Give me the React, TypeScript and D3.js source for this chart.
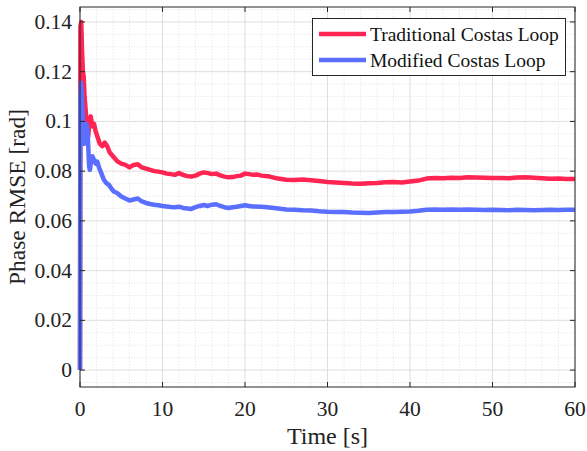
import React from "react";
import * as d3 from "d3";

const traditional: [number, number][] = [
  [0, 0], [0.05, 0.138], [0.15, 0.14], [0.25, 0.128], [0.35, 0.12], [0.45, 0.118], [0.55, 0.11],
  [0.7, 0.104], [0.85, 0.096], [1.0, 0.094], [1.15, 0.101], [1.3, 0.102], [1.5, 0.098], [1.7, 0.099],
  [1.9, 0.096], [2.1, 0.094], [2.4, 0.091], [2.7, 0.09], [3.0, 0.0915], [3.3, 0.09], [3.6, 0.0875],
  [4.0, 0.086], [4.5, 0.084], [5.0, 0.083], [5.5, 0.0825], [6.0, 0.0815], [6.5, 0.0825], [7.0, 0.0828],
  [7.5, 0.0815], [8.0, 0.081], [8.5, 0.0805], [9.0, 0.08], [9.5, 0.0798], [10, 0.0795], [10.5, 0.079],
  [11, 0.0788], [11.5, 0.0785], [12, 0.0792], [12.5, 0.0785], [13, 0.078], [13.5, 0.0778], [14, 0.0782],
  [14.5, 0.079], [15, 0.0795], [15.5, 0.0792], [16, 0.0788], [16.5, 0.079], [17, 0.0783], [17.5, 0.0778],
  [18, 0.0775], [18.5, 0.0776], [19, 0.078], [19.5, 0.0782], [20, 0.079], [20.5, 0.0788], [21, 0.0785],
  [21.5, 0.0786], [22, 0.0782], [23, 0.0778], [24, 0.077], [25, 0.0765], [26, 0.0764], [27, 0.0766],
  [28, 0.0763], [29, 0.076], [30, 0.0756], [31, 0.0754], [32, 0.0752], [33, 0.075], [34, 0.0749],
  [35, 0.0751], [36, 0.0752], [37, 0.0755], [38, 0.0756], [39, 0.0754], [40, 0.0758], [41, 0.0762],
  [42, 0.077], [43, 0.0772], [44, 0.0771], [45, 0.0773], [46, 0.0772], [47, 0.0775], [48, 0.0774],
  [49, 0.0773], [50, 0.0772], [51, 0.0772], [52, 0.0771], [53, 0.0774], [54, 0.0775], [55, 0.0773],
  [56, 0.0771], [57, 0.0769], [58, 0.077], [59, 0.0768], [60, 0.0768],
];

const modified: [number, number][] = [
  [0, 0], [0.05, 0.11], [0.12, 0.1155], [0.2, 0.112], [0.3, 0.105], [0.4, 0.097], [0.5, 0.091],
  [0.6, 0.094], [0.75, 0.099], [0.9, 0.097], [1.0, 0.09], [1.1, 0.082], [1.2, 0.0805], [1.35, 0.084],
  [1.5, 0.086], [1.7, 0.0845], [1.9, 0.083], [2.1, 0.0838], [2.3, 0.0815], [2.6, 0.079], [2.9, 0.0765],
  [3.2, 0.0752], [3.5, 0.0745], [3.8, 0.073], [4.1, 0.0718], [4.5, 0.0712], [5.0, 0.0698], [5.5, 0.069],
  [6.0, 0.0682], [6.5, 0.0686], [7.0, 0.069], [7.5, 0.0678], [8.0, 0.0672], [8.5, 0.0668], [9, 0.0665],
  [9.5, 0.0663], [10, 0.066], [10.5, 0.0658], [11, 0.0656], [11.5, 0.0655], [12, 0.0657], [12.5, 0.0652],
  [13, 0.065], [13.5, 0.0648], [14, 0.0655], [14.5, 0.066], [15, 0.0664], [15.5, 0.066], [16, 0.0665],
  [16.5, 0.0667], [17, 0.066], [17.5, 0.0655], [18, 0.0652], [18.5, 0.0655], [19, 0.0657], [19.5, 0.066],
  [20, 0.0663], [20.5, 0.066], [21, 0.0658], [22, 0.0657], [23, 0.0654], [24, 0.065], [25, 0.0646],
  [26, 0.0645], [27, 0.0643], [28, 0.0642], [29, 0.0639], [30, 0.0637], [31, 0.0636], [32, 0.0636],
  [33, 0.0634], [34, 0.0633], [35, 0.0632], [36, 0.0634], [37, 0.0636], [38, 0.0636], [39, 0.0637],
  [40, 0.0638], [41, 0.0641], [42, 0.0645], [43, 0.0646], [44, 0.0645], [45, 0.0646], [46, 0.0645],
  [47, 0.0646], [48, 0.0645], [49, 0.0644], [50, 0.0645], [51, 0.0644], [52, 0.0643], [53, 0.0645],
  [54, 0.0644], [55, 0.0643], [56, 0.0644], [57, 0.0645], [58, 0.0644], [59, 0.0645], [60, 0.0645],
];

const xTicks = [0, 10, 20, 30, 40, 50, 60];
const yTicks = [0, 0.02, 0.04, 0.06, 0.08, 0.1, 0.12, 0.14];
const yTickLabels = ["0", "0.02", "0.04", "0.06", "0.08", "0.1", "0.12", "0.14"];
const seriesNames = ["Traditional Costas Loop", "Modified Costas Loop"];
const seriesColors = ["#ff2452", "#5a6eff"];

const W = 587, H = 451;
const L = 80, R = 575, T = 7, B = 387;
const FONT = "'Liberation Serif', 'Times New Roman', serif";

export default function App() {
  const x = d3.scaleLinear().domain([0, 60]).range([L, R]);
  const y = d3.scaleLinear().domain([-0.0068, 0.146]).range([B, T]);
  const line = d3.line<[number, number]>().x(d => x(d[0])).y(d => y(d[1]));
  const minorX = d3.range(0, 60.001, 2).filter(v => v % 10 !== 0);
  const minorY = d3.range(-0.005, 0.1451, 0.005).filter(v => Math.abs(v / 0.02 - Math.round(v / 0.02)) > 1e-6);
  const axisColor = "#262626";
  const tl = 5;
  return (
    <svg width={W} height={H} style={{ position: "absolute", left: 0, top: 0, background: "#fff" }}>
      <rect x={0} y={0} width={W} height={H} fill="#fff" />
      {minorX.map(v => (
        <line key={"mx" + v} x1={x(v)} x2={x(v)} y1={T} y2={B} stroke="#e4e4e4" strokeWidth={0.8} strokeDasharray="1.5,1.5" />
      ))}
      {minorY.map(v => (
        <line key={"my" + v} x1={L} x2={R} y1={y(v)} y2={y(v)} stroke="#e4e4e4" strokeWidth={0.8} strokeDasharray="1.5,1.5" />
      ))}
      {xTicks.map(v => (
        <line key={"gx" + v} x1={x(v)} x2={x(v)} y1={T} y2={B} stroke="#dedede" strokeWidth={1} />
      ))}
      {yTicks.map(v => (
        <line key={"gy" + v} x1={L} x2={R} y1={y(v)} y2={y(v)} stroke="#dedede" strokeWidth={1} />
      ))}
      <path d={line(traditional) || ""} fill="none" stroke={seriesColors[0]} strokeWidth={4.5} strokeLinejoin="round" />
      <path d={line(modified) || ""} fill="none" stroke={seriesColors[1]} strokeWidth={4.5} strokeLinejoin="round" />
      <rect x={L} y={T} width={R - L} height={B - T} fill="none" stroke={axisColor} strokeWidth={1} />
      {xTicks.map(v => (
        <g key={"tx" + v}>
          <line x1={x(v)} x2={x(v)} y1={B} y2={B - tl} stroke={axisColor} />
          <line x1={x(v)} x2={x(v)} y1={T} y2={T + tl} stroke={axisColor} />
          <text x={x(v)} y={415.5} textAnchor="middle" fontFamily={FONT} fontSize={21.5} fill="#222">{v}</text>
        </g>
      ))}
      {yTicks.map((v, i) => (
        <g key={"ty" + v}>
          <line x1={L} x2={L + tl} y1={y(v)} y2={y(v)} stroke={axisColor} />
          <line x1={R} x2={R - tl} y1={y(v)} y2={y(v)} stroke={axisColor} />
          <text x={72} y={y(v) + 7} textAnchor="end" fontFamily={FONT} fontSize={21.5} fill="#222">{yTickLabels[i]}</text>
        </g>
      ))}
      <text x={(L + R) / 2} y={444} textAnchor="middle" fontFamily={FONT} fontSize={24} fill="#222">Time [s]</text>
      <text transform={`translate(25, ${(T + B) / 2}) rotate(-90)`} textAnchor="middle" fontFamily={FONT} fontSize={23.5} fill="#222">Phase RMSE [rad]</text>
      <g>
        <rect x={312.5} y={18.5} width={253} height={57} fill="#fff" stroke={axisColor} strokeWidth={1} />
        {seriesNames.map((n, i) => (
          <g key={n}>
            <line x1={319} x2={366} y1={34 + i * 26} y2={34 + i * 26} stroke={seriesColors[i]} strokeWidth={4.5} />
            <text x={370} y={34 + i * 26 + 6.5} fontFamily={FONT} fontSize={19.5} fill="#111">{n}</text>
          </g>
        ))}
      </g>
    </svg>
  );
}
